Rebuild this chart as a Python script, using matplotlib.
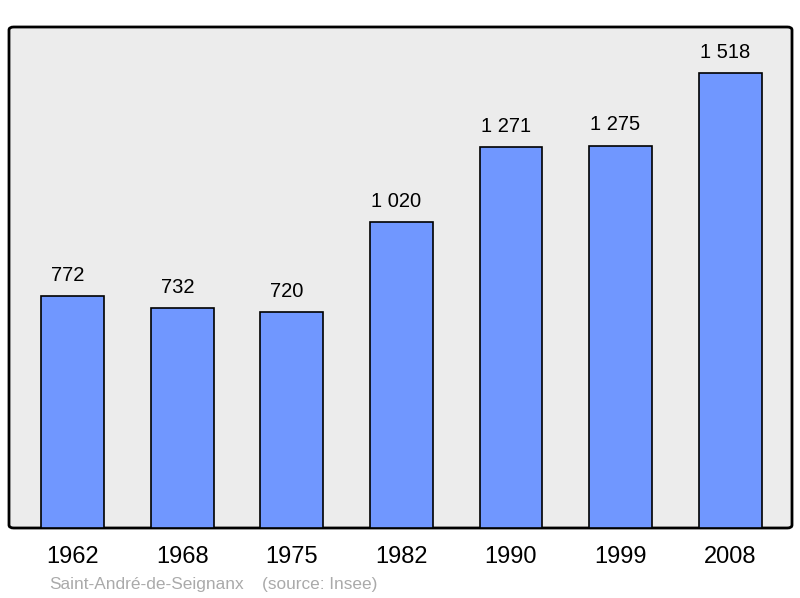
import matplotlib
matplotlib.use("Agg")
import matplotlib.pyplot as plt
from matplotlib.patches import FancyBboxPatch

# data
years = ["1962", "1968", "1975", "1982", "1990", "1999", "2008"]
population = [772, 732, 720, 1020, 1271, 1275, 1518]
commune = "Saint-André-de-Seignanx"
source = "(source: Insee)"

plt.rcParams['font.family'] = ['Liberation Sans', 'DejaVu Sans']

fig = plt.figure(figsize=(8.0, 5.98), dpi=100)
ax = fig.add_axes([9 / 800, 70 / 598, 783 / 800, 501 / 598])

# rounded grey frame
ax.patch.set_visible(False)
frame = FancyBboxPatch(
    (0, 0), 1, 1,
    boxstyle="round,pad=0,rounding_size=0.006",
    transform=ax.transAxes,
    facecolor="#ececec",
    edgecolor="black",
    linewidth=2,
    clip_on=False,
    zorder=0,
)
ax.add_patch(frame)

x = range(len(years))
ax.bar(
    x,
    population,
    width=0.575,
    color="#7097ff",
    edgecolor="black",
    linewidth=1.2,
    zorder=2,
)

for xi, val in zip(x, population):
    label = f"{val:,}".replace(",", " ")
    ax.annotate(
        label,
        (xi, val),
        xytext=(-5, 11),
        textcoords="offset pixels",
        ha="center",
        va="bottom",
        fontsize=14.5,
        color="black",
    )

ax.set_xlim(-0.584, 6.566)
ax.set_ylim(0, 1670)

for s in ax.spines.values():
    s.set_visible(False)

ax.set_yticks([])
ax.set_xticks(list(x))
ax.set_xticklabels(years, fontsize=17)
ax.tick_params(axis="x", length=0, pad=13)

fig.text(49 / 800, 1 - 584 / 598, commune, fontsize=12.4, color="#aaaaaa",
         ha="left", va="center")
fig.text(262 / 800, 1 - 584 / 598, source, fontsize=12.4, color="#aaaaaa",
         ha="left", va="center")

fig.savefig("out.png", dpi=100)
